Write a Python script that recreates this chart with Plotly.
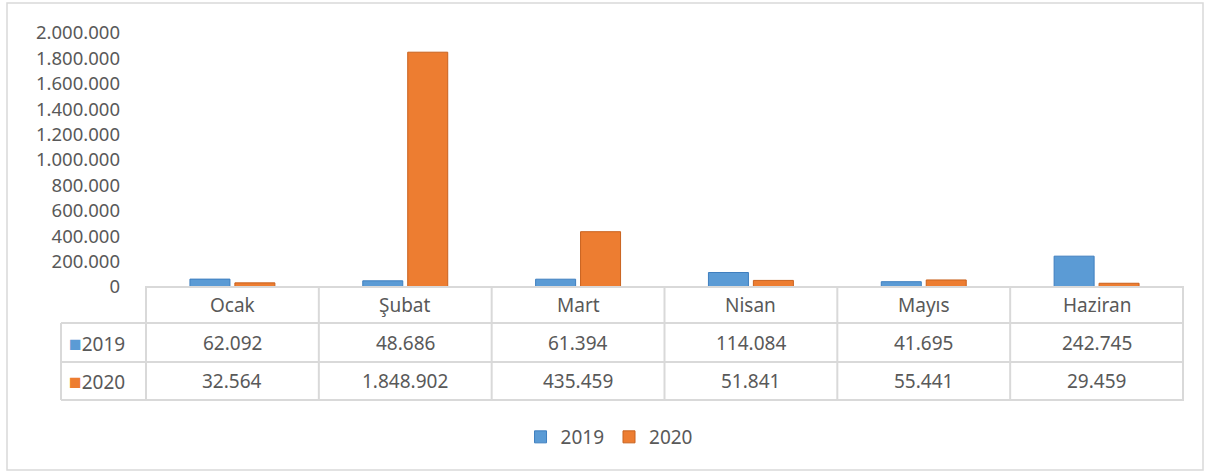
import plotly.graph_objects as go

months = ["Ocak", "Şubat", "Mart", "Nisan", "Mayıs", "Haziran"]
years = ["2019", "2020"]
v2019 = [62092, 48686, 61394, 114084, 41695, 242745]
v2020 = [32564, 1848902, 435459, 51841, 55441, 29459]
yticks = [0, 200000, 400000, 600000, 800000, 1000000, 1200000,
          1400000, 1600000, 1800000, 2000000]

W, H = 1206, 472
blue, orange = "#5B9BD5", "#ED7D31"
grey_txt = "#595959"
line_c = "#D9D9D9"
FONT = "Noto Sans"
FS = 19


def px(x):
    return x / W


def py(y):
    return 1 - y / H


def fmt(v):
    return f"{v:,}".replace(",", ".")


fig = go.Figure()
for name, vals, col, edge in [(years[0], v2019, blue, "#3F7FBF"),
                              (years[1], v2020, orange, "#C9621E")]:
    fig.add_trace(go.Bar(x=months, y=vals, name=name,
                         marker=dict(color=col, line=dict(color=edge, width=1))))

# table geometry (pixels)
x_left, x_plot0, x_plot1 = 61, 145, 1184
y_axis, y_r1, y_r2, y_r3 = 287, 323, 362, 400

shapes = []
# outer chart border
shapes.append(dict(type="rect", xref="paper", yref="paper",
                   x0=px(7), x1=px(1203), y0=py(470), y1=py(3),
                   line=dict(color=line_c, width=1.5)))
# horizontal table lines
shapes.append(dict(type="line", xref="paper", yref="paper",
                   x0=px(x_plot0), x1=px(x_plot1), y0=py(y_axis), y1=py(y_axis),
                   line=dict(color=line_c, width=2)))
for yy in (y_r1, y_r2, y_r3):
    shapes.append(dict(type="line", xref="paper", yref="paper",
                       x0=px(x_left), x1=px(x_plot1), y0=py(yy), y1=py(yy),
                       line=dict(color=line_c, width=2)))
# vertical table lines at category boundaries
for i in range(len(months) + 1):
    shapes.append(dict(type="line", xref="x", yref="paper",
                       x0=i - 0.5, x1=i - 0.5, y0=py(y_r3), y1=py(y_axis),
                       line=dict(color=line_c, width=2)))
shapes.append(dict(type="line", xref="paper", yref="paper",
                   x0=px(x_left), x1=px(x_left), y0=py(y_r3), y1=py(y_r1),
                   line=dict(color=line_c, width=2)))

ann = []
fnt = dict(family=FONT, size=FS, color=grey_txt)
for i, m in enumerate(months):
    ann.append(dict(x=m, xref="x", yref="paper", y=py((y_axis + y_r1) / 2),
                    text=m, showarrow=False, font=fnt, yanchor="middle"))
    ann.append(dict(x=m, xref="x", yref="paper", y=py((y_r1 + y_r2) / 2),
                    text=fmt(v2019[i]), showarrow=False, font=fnt, yanchor="middle"))
    ann.append(dict(x=m, xref="x", yref="paper", y=py((y_r2 + y_r3) / 2),
                    text=fmt(v2020[i]), showarrow=False, font=fnt, yanchor="middle"))
for name, col, (a, b) in [(years[0], blue, (y_r1, y_r2)), (years[1], orange, (y_r2, y_r3))]:
    ann.append(dict(xref="paper", yref="paper", x=px(67), xanchor="left",
                    y=py((a + b) / 2), showarrow=False, font=fnt, yanchor="middle",
                    text=f"<span style='color:{col};font-size:21px'>■</span>{name}"))

fig.update_layout(
    width=W, height=H,
    margin=dict(l=0, r=0, t=0, b=0, autoexpand=False),
    paper_bgcolor="white", plot_bgcolor="white",
    separators=",.",
    barmode="group", bargap=0.48, bargroupgap=0.11,
    font=dict(family=FONT, size=FS, color=grey_txt),
    xaxis=dict(domain=[px(x_plot0), px(x_plot1)], showticklabels=False,
               showgrid=False, zeroline=False, showline=False, ticks="",
               automargin=False),
    yaxis=dict(domain=[py(y_axis), py(33)], range=[0, 2000000],
               tickvals=yticks, ticktext=[fmt(v) for v in yticks],
               showgrid=False, zeroline=False, showline=False,
               ticks="", ticklabelstandoff=24, automargin=False,
               tickfont=dict(family=FONT, size=18.5, color=grey_txt)),
    showlegend=True,
    legend=dict(orientation="h", x=0.505, xanchor="center", y=py(437), yanchor="middle",
                font=dict(family=FONT, size=FS, color=grey_txt),
                itemwidth=30, traceorder="normal"),
    shapes=shapes, annotations=ann,
)

fig.write_html("out.html", config={"displayModeBar": False},
               post_script="document.body.style.margin='0';"
                           "document.body.style.overflow='hidden';")
